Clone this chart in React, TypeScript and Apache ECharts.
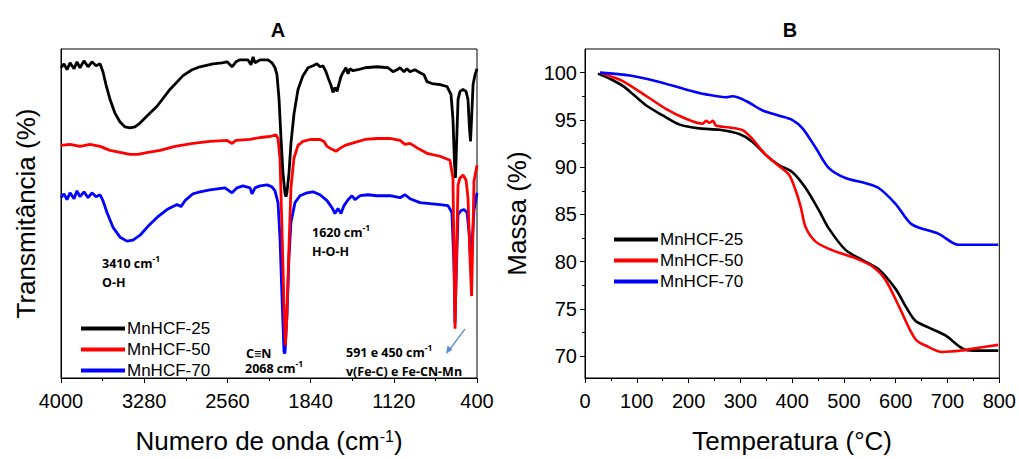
import React, { useEffect, useRef } from "react";
import * as echarts from "echarts";

const seriesNames = ["MnHCF-25", "MnHCF-50", "MnHCF-70"];
const seriesColors = ["#000000", "#ff0000", "#0000ff"];

const ftirTicks = [400, 1120, 1840, 2560, 3280, 4000];
const ftirMinorTicks = [760, 1480, 2200, 2920, 3640];
const massTicks = [70, 75, 80, 85, 90, 95, 100];
const massMinorTicks = [72.5, 77.5, 82.5, 87.5, 92.5, 97.5];

// FTIR spectra: [wavenumber cm-1, transmittance (offset, a.u.)]
const ftir25: [number, number][] = [
  [4000, 94.3], [3974, 95.5], [3948, 93.7], [3922, 95.8], [3887, 94.0], [3862, 96.1], [3836, 94.3],
  [3801, 96.4], [3766, 94.6], [3732, 96.1], [3697, 94.9], [3662, 95.5], [3637, 93.1], [3611, 89.2],
  [3576, 84.7], [3533, 80.5], [3489, 77.8], [3446, 76.3], [3403, 76.0], [3360, 76.3], [3316, 77.5],
  [3256, 79.6], [3169, 82.6], [3057, 87.7], [2944, 91.9], [2866, 93.7], [2797, 94.6], [2685, 95.5],
  [2607, 95.8], [2563, 96.1], [2520, 94.6], [2486, 96.1], [2451, 96.7], [2382, 96.7], [2356, 95.2],
  [2338, 97.6], [2321, 95.8], [2278, 96.7], [2209, 96.7], [2174, 95.8], [2148, 94.3], [2131, 92.2],
  [2113, 84.7], [2096, 72.8], [2079, 62.3], [2062, 56.3], [2053, 55.1], [2045, 56.3], [2027, 62.3],
  [2010, 71.3], [1984, 80.2], [1949, 87.7], [1906, 91.9], [1862, 94.3], [1819, 94.9], [1785, 95.5],
  [1759, 94.6], [1733, 94.9], [1707, 93.1], [1689, 91.3], [1663, 88.9], [1646, 86.8], [1629, 88.3],
  [1611, 87.1], [1594, 89.5], [1577, 91.6], [1560, 92.8], [1534, 94.3], [1516, 92.5], [1499, 94.0],
  [1473, 93.4], [1430, 93.7], [1369, 94.3], [1265, 94.6], [1170, 94.3], [1127, 93.1], [1092, 93.7],
  [1066, 94.3], [1032, 93.1], [1006, 94.0], [980, 93.1], [937, 93.7], [893, 92.8], [859, 92.2],
  [833, 90.1], [789, 89.5], [720, 89.2], [660, 88.6], [625, 86.2], [608, 78.7], [595, 65.3],
  [586, 60.8], [578, 69.8], [564, 84.7], [547, 87.1], [521, 87.7], [495, 87.1], [478, 84.7],
  [465, 75.8], [456, 71.9], [447, 78.7], [434, 89.2], [417, 92.2], [400, 94.0],
];

const ftir50: [number, number][] = [
  [4000, 70.7], [3922, 71.0], [3836, 70.4], [3749, 71.0], [3662, 70.4], [3576, 69.2], [3489, 68.6],
  [3403, 68.0], [3334, 68.0], [3247, 68.6], [3143, 69.2], [3013, 70.4], [2858, 71.3], [2711, 71.9],
  [2563, 72.2], [2520, 71.3], [2486, 72.2], [2364, 72.5], [2278, 73.1], [2191, 73.4], [2139, 73.9],
  [2122, 72.8], [2105, 66.8], [2088, 45.8], [2070, 21.9], [2058, 9.9], [2045, 18.9], [2027, 39.8],
  [2010, 57.8], [1984, 66.8], [1949, 70.7], [1906, 71.9], [1845, 72.5], [1759, 72.5], [1724, 71.9],
  [1698, 70.4], [1655, 69.5], [1620, 68.9], [1586, 69.8], [1542, 70.7], [1456, 71.6], [1369, 72.5],
  [1265, 72.8], [1153, 72.8], [1066, 72.2], [1023, 71.0], [980, 71.3], [911, 69.8], [833, 68.3],
  [720, 67.4], [634, 66.2], [608, 60.8], [599, 36.8], [590, 15.0], [578, 36.8], [564, 58.7],
  [547, 60.8], [521, 61.7], [495, 60.2], [478, 54.8], [461, 36.8], [447, 24.9], [434, 45.8],
  [426, 59.9], [400, 64.7],
];

const ftir70: [number, number][] = [
  [4000, 54.8], [3974, 56.0], [3948, 54.2], [3922, 56.3], [3887, 54.5], [3862, 56.9], [3836, 55.1],
  [3801, 56.6], [3766, 54.8], [3732, 56.3], [3697, 55.1], [3662, 55.7], [3637, 53.9], [3602, 50.3],
  [3550, 45.8], [3489, 42.8], [3429, 41.6], [3377, 41.9], [3316, 43.4], [3247, 46.1], [3169, 48.8],
  [3083, 51.2], [2996, 52.7], [2962, 52.1], [2927, 53.9], [2858, 56.0], [2797, 56.6], [2711, 57.2],
  [2581, 57.8], [2520, 56.3], [2477, 57.8], [2425, 58.4], [2364, 57.8], [2347, 56.0], [2321, 57.8],
  [2278, 58.4], [2217, 58.7], [2174, 58.1], [2148, 56.9], [2122, 53.3], [2105, 42.8], [2088, 24.9],
  [2070, 7.8], [2062, 7.5], [2045, 18.9], [2027, 36.8], [2010, 47.3], [1975, 53.3], [1932, 55.4],
  [1871, 56.3], [1819, 56.6], [1759, 55.7], [1698, 53.9], [1655, 51.8], [1629, 50.0], [1603, 51.5],
  [1577, 50.0], [1551, 52.4], [1516, 54.2], [1482, 55.4], [1456, 54.2], [1412, 55.4], [1343, 55.7],
  [1265, 55.4], [1153, 55.4], [1066, 54.8], [1023, 55.7], [980, 54.5], [893, 53.3], [807, 53.0],
  [720, 52.7], [651, 52.4], [617, 50.3], [599, 33.8], [590, 16.8], [578, 33.8], [564, 49.7],
  [538, 50.9], [512, 51.2], [486, 50.3], [465, 42.8], [452, 32.9], [439, 42.8], [426, 50.9],
  [400, 56.3],
];

// TGA curves: [temperature °C, mass %]
const tga25: [number, number][] = [
  [25, 99.9], [50, 99.3], [73, 98.6], [95, 97.6], [119, 96.5], [151, 95.45], [183, 94.5], [221, 94.1],
  [260, 93.95], [298, 93.5], [323, 92.7], [349, 91.3], [375, 90.2], [400, 89.5], [426, 87.8],
  [452, 85.4], [471, 83.5], [503, 81.25], [535, 80.2], [567, 79.2], [600, 77.1], [620, 75.2],
  [638, 73.75], [663, 73.05], [696, 72.2], [734, 70.7], [760, 70.6], [798, 70.6],
];

const tga50: [number, number][] = [
  [29, 100.0], [50, 99.6], [73, 99.1], [119, 97.5], [157, 96.15], [196, 95.1], [227, 94.6],
  [234, 94.9], [240, 94.7], [247, 94.9], [253, 94.4], [279, 94.2], [305, 93.9], [323, 93.0],
  [349, 91.3], [375, 90.1], [394, 89.2], [407, 87.5], [417, 85.7], [426, 83.65], [446, 82.1],
  [478, 81.2], [523, 80.35], [555, 79.5], [580, 78.1], [606, 75.3], [638, 71.8], [663, 71.0],
  [689, 70.45], [727, 70.6], [760, 70.9], [798, 71.2],
];

const tga70: [number, number][] = [
  [29, 100.0], [87, 99.7], [138, 99.1], [196, 98.2], [234, 97.7], [272, 97.4], [285, 97.5],
  [311, 97.0], [343, 96.0], [375, 95.45], [400, 95.0], [420, 94.1], [446, 92.0], [471, 89.9],
  [503, 88.85], [542, 88.3], [567, 87.8], [600, 86.1], [631, 83.95], [683, 82.95], [721, 81.8],
  [760, 81.8], [798, 81.8],
];

const ftirData = [ftir25, ftir50, ftir70];
const tgaData = [tga25, tga50, tga70];

const FONT = "'Liberation Sans', Arial, sans-serif";
const NOTE_FONT = "'Open Sans', 'Liberation Sans', sans-serif";

function noteText(x: number, y: number, main: string, sup?: string, align = "left") {
  return {
    type: "text",
    x,
    y,
    style: {
      text: sup ? `{b|${main}}{s|${sup}}` : `{b|${main}}`,
      rich: {
        b: { fontSize: 12.5, fontWeight: "bold", fontFamily: NOTE_FONT, color: "#111", lineHeight: 16, verticalAlign: "bottom" },
        s: { fontSize: 8.5, fontWeight: "bold", fontFamily: NOTE_FONT, color: "#111", lineHeight: 16, verticalAlign: "top" },
      },
      align,
      verticalAlign: "middle",
    },
  };
}

export default function App() {
  const ref = useRef<HTMLDivElement>(null);

  useEffect(() => {
    document.documentElement.style.overflow = "hidden";
    document.body.style.margin = "0";
    document.body.style.overflow = "hidden";
    if (!ref.current) return;
    const chart = echarts.init(ref.current, undefined, { renderer: "svg" });

    const axisLine = { show: true, lineStyle: { color: "#000", width: 1 } };
    const labelStyle = { color: "#000", fontSize: 20, fontFamily: FONT, formatter: (v: number) => String(v) };
    const nameStyle = {
      color: "#000",
      fontSize: 26,
      fontFamily: FONT,
      lineHeight: 26,
      rich: {
        n: { fontSize: 26, fontFamily: FONT, color: "#000", lineHeight: 26, verticalAlign: "bottom" },
        s: { fontSize: 16, fontFamily: FONT, color: "#000", lineHeight: 26, verticalAlign: "top" },
      },
    };

    const series: any[] = [];
    seriesNames.forEach((name, i) => {
      series.push({
        name,
        type: "line",
        xAxisIndex: 0,
        yAxisIndex: 0,
        data: ftirData[i],
        showSymbol: false,
        symbol: "none",
        lineStyle: { color: seriesColors[i], width: 2.8 },
        itemStyle: { color: seriesColors[i] },
        z: 3 - i + 2,
      });
    });
    seriesNames.forEach((name, i) => {
      series.push({
        name,
        type: "line",
        xAxisIndex: 2,
        yAxisIndex: 1,
        data: tgaData[i],
        showSymbol: false,
        symbol: "none",
        smooth: 0.3,
        lineStyle: { color: seriesColors[i], width: 2.6 },
        itemStyle: { color: seriesColors[i] },
      });
    });

    const legendBase = {
      data: seriesNames,
      orient: "vertical",
      icon: "rect",
      itemWidth: 44,
      itemHeight: 4,
      itemGap: 4,
      selectedMode: false,
      textStyle: { color: "#000", fontSize: 17, fontFamily: FONT, padding: [0, 0, 0, -3] },
    };

    chart.setOption({
      animation: false,
      backgroundColor: "#fff",
      grid: [
        { left: 61, top: 49, width: 416, height: 334, show: true, borderColor: "#000", borderWidth: 1, backgroundColor: "transparent" },
        { left: 585, top: 49, width: 416, height: 334, show: true, borderColor: "#000", borderWidth: 1, backgroundColor: "transparent" },
      ],
      legend: [
        { ...legendBase, left: 76, top: 315 },
        { ...legendBase, left: 609, top: 226 },
      ],
      xAxis: [
        {
          gridIndex: 0,
          type: "value",
          min: 400,
          max: 4000,
          inverse: true,
          position: "bottom",
          axisLine,
          axisTick: { show: true, customValues: ftirTicks, length: 5, lineStyle: { color: "#000" } },
          axisLabel: { ...labelStyle, customValues: ftirTicks, margin: 13 },
          splitLine: { show: false },
          name: "{n|Numero de onda (cm}{s|-1}{n|)}",
          nameLocation: "middle",
          nameGap: 50,
          nameTextStyle: nameStyle,
        },
        {
          gridIndex: 0,
          type: "value",
          min: 400,
          max: 4000,
          inverse: true,
          position: "bottom",
          axisLine: { show: false },
          axisTick: { show: true, customValues: ftirMinorTicks, length: 3, lineStyle: { color: "#000" } },
          axisLabel: { show: false },
          splitLine: { show: false },
        },
        {
          gridIndex: 1,
          type: "value",
          min: 0,
          max: 800,
          interval: 100,
          position: "bottom",
          axisLine,
          axisTick: { show: true, length: 5, lineStyle: { color: "#000" } },
          minorTick: { show: true, splitNumber: 2, length: 3, lineStyle: { color: "#000" } },
          axisLabel: { ...labelStyle, margin: 13 },
          splitLine: { show: false },
          minorSplitLine: { show: false },
          name: "Temperatura (°C)",
          nameLocation: "middle",
          nameGap: 50,
          nameTextStyle: nameStyle,
        },
      ],
      yAxis: [
        {
          gridIndex: 0,
          type: "value",
          min: 0,
          max: 100,
          axisLine,
          axisTick: { show: false },
          axisLabel: { show: false },
          splitLine: { show: false },
          name: "Transmitância (%)",
          nameLocation: "middle",
          nameGap: 22,
          nameTextStyle: nameStyle,
        },
        {
          gridIndex: 1,
          type: "value",
          min: 67.7,
          max: 102.5,
          position: "left",
          axisLine,
          axisTick: { show: true, customValues: massTicks, length: 5, lineStyle: { color: "#000" } },
          axisLabel: { ...labelStyle, customValues: massTicks, margin: 8 },
          splitLine: { show: false },
          name: "Massa (%)",
          nameLocation: "middle",
          nameGap: 55,
          nameTextStyle: nameStyle,
        },
        {
          gridIndex: 1,
          type: "value",
          min: 67.7,
          max: 102.5,
          position: "left",
          axisLine: { show: false },
          axisTick: { show: true, customValues: massMinorTicks, length: 3, lineStyle: { color: "#000" } },
          axisLabel: { show: false },
          splitLine: { show: false },
        },
      ],
      series,
      graphic: [
        { type: "text", x: 278, y: 30, style: { text: "A", fontSize: 20, fontWeight: "bold", fontFamily: FONT, fill: "#000", align: "center", verticalAlign: "middle" } },
        { type: "text", x: 790, y: 30, style: { text: "B", fontSize: 20, fontWeight: "bold", fontFamily: FONT, fill: "#000", align: "center", verticalAlign: "middle" } },
        noteText(102, 262, "3410 cm", "-1"),
        noteText(102, 281, "O-H"),
        noteText(312, 231, "1620 cm", "-1"),
        noteText(312, 250, "H-O-H"),
        noteText(246, 352, "C≡N"),
        noteText(245, 367, "2068 cm", "-1"),
        noteText(346, 351, "591 e 450 cm", "-1"),
        noteText(346, 370, "v(Fe-C) e Fe-CN-Mn"),
        { type: "line", shape: { x1: 465, y1: 329, x2: 450, y2: 349 }, style: { stroke: "#5b8fcf", lineWidth: 1.3 } },
        { type: "polygon", shape: { points: [[446, 354], [447.5, 345.5], [452.5, 349.5]] }, style: { fill: "#5b8fcf" } },
      ],
    });

    return () => chart.dispose();
  }, []);

  return (
    <div
      ref={ref}
      style={{ position: "absolute", left: 0, top: 0, width: 1019, height: 459, background: "#fff", overflow: "hidden" }}
    />
  );
}
